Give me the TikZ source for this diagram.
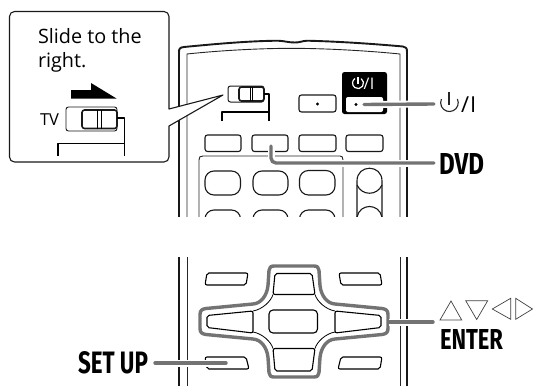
\documentclass[tikz,border=0pt]{standalone}
\usepackage{fontspec}
\setmainfont{Open Sans}
\newfontfamily\heavy{Fira Sans}
\tikzset{
 x=1pt,y=-1pt,
 thinl/.style={line width=0.9pt,black!85},
 body/.style={line width=1.9pt,black!90},
 btn/.style={line width=1.1pt,draw=black!90,fill=white,rounded corners=2.5pt},
 rnd/.style={line width=1.1pt,draw=black!90,fill=white,rounded corners=9pt},
 padbtn/.style={line width=1.1pt,draw=black,fill=white,rounded corners=2pt},
 lead/.style={line width=3.4pt,draw=black!55,line cap=round},
 halo/.style={line width=7pt,draw=white},
 ring/.style={line width=3.4pt,draw=black!55,fill=white,line join=round},
 tri/.style={line width=0.7pt,draw=black!75,line join=miter},
 txt/.style={inner sep=0pt,outer sep=0pt,anchor=base west},
 lbl/.style={inner sep=0pt,outer sep=0pt,anchor=south west},
}
\newcommand{\hv}[3]{\resizebox{#1pt}{#2pt}{\heavy\bfseries #3}}
\begin{document}
\begin{tikzpicture}
\useasboundingbox (0,0) rectangle (533,386);
% upper remote
\begin{scope}
\clip (170,30) rectangle (420,216);
\draw[body,line join=round] (179,220) -- (179,52) .. controls (179,48.5) and (180,47.5) .. (184,47) .. controls (220,43.5) and (250,41) .. (278,40.7) .. controls (285,41) and (288,42.5) .. (295,42.5) .. controls (300,42.5) and (302,41) .. (307,40.7) .. controls (340,41.5) and (375,44) .. (403,46.5) .. controls (406,47) and (407,48) .. (407,52) -- (407,220);
\draw[thinl] (187,220) -- (187,54) .. controls (220,50.5) and (260,48.3) .. (293,48.3) .. controls (330,48.5) and (370,51) .. (400,54) -- (400,220);
\draw[thinl] (199,220) -- (199,160) .. controls (199,157) and (200,156) .. (203,156) -- (340,156) .. controls (342,156) and (343,157) .. (343,160) -- (343,220);
\draw[rnd] (205,171) rectangle (240.5,195);
\draw[rnd] (253,171) rectangle (288,195);
\draw[rnd] (299.5,170.5) rectangle (335,195);
\draw[rnd] (205,210) rectangle (240.5,240);
\draw[rnd] (253,210) rectangle (288,240);
\draw[rnd] (299.5,210) rectangle (335,240);
\draw[line width=1.1pt,black!90] (357,220) -- (357,181) .. controls (357,164) and (382,164) .. (382,181) -- (382,220);
\draw[line width=1.1pt,black!90] (357,185) .. controls (362,196) and (377,196) .. (382,185);
\draw[line width=1.1pt,black!90] (357,217) .. controls (360,203) and (379,203) .. (382,217);
\end{scope}
% slider on the remote
\draw[btn,line width=1pt] (228,86) rectangle (264,102);
\draw[btn,line width=1.6pt] (239,87) rectangle (264,101);
\draw[line width=.8pt,black] (250,87) -- (250,101) (252.5,87) -- (252.5,101);
\draw[line width=1.3pt,black,line join=round] (264,94) -- (269,94) -- (269,121);
\draw[line width=1.3pt,black,line join=round] (222,121) -- (222,112) -- (269,112);
% buttons
\foreach \a/\b in {205/241,252/288,299/336,346/383}{\draw[btn] (\a,135) rectangle (\b,151.5);}
\draw[btn] (299,95) rectangle (336,112);
\fill (317.5,104) circle[radius=1.6];
\node[fill=black,inner sep=0pt,rounded corners=2.5pt,minimum width=45pt,minimum height=42pt] (power) at (364.5,93) {};
\node[fill=white,inner sep=0pt,rounded corners=2pt,minimum width=37pt,minimum height=15pt] (powerkey) at (364.5,104.5) {};
\coordinate (powerdot) at (356,104.5);
\fill (powerdot) circle[radius=1.6];
\draw[white,line width=1.2pt] (361.2,78.6) arc[start angle=305,end angle=595,radius=5.5];
\draw[white,line width=1.2pt] (358,77) -- (358,84);
\node[txt,white,font=\fontsize{16}{16}\selectfont] (powertxt) at (363.5,89) {/\kern.5pt I};
% callout
\draw[line width=1.1pt,black!90,fill=white,line join=round] (169,126) [rounded corners=5pt] -- (169,162) -- (9.5,162) -- (9.5,11.5) -- (169,11.5) [sharp corners] -- (169,109) -- (223,95) -- cycle;
\node[txt,font=\fontsize{19.8}{19.8}\selectfont] (slide1) at (38,43) {Slide to the};
\node[txt,font=\fontsize{19.8}{19.8}\selectfont] (slide2) at (38,67) {right.};
\fill (71,90) -- (91,90) -- (91,83) -- (116.5,98.5) -- (71,98.5) -- cycle;
\node[txt,font=\fontsize{16.5}{16.5}\selectfont] (tv) at (40,125) {TV};
\draw[btn,line width=.9pt] (66,107) rectangle (117,131);
\draw[btn,line width=1.6pt] (82,110) rectangle (117,128.5);
\draw[line width=.9pt,black] (97.5,110) -- (97.5,128.5) (101,110) -- (101,128.5);
\draw[line width=1.4pt,black,line join=round] (117,118) -- (124.5,118) -- (124.5,156);
\draw[line width=1.4pt,black,line join=round] (58,156) -- (58,143.5) -- (124.5,143.5);
% lower remote
\draw[body] (179,257) -- (179,386) (407,257) -- (407,386);
\draw[thinl] (187,257) -- (187,386) (400,257) -- (400,386);
\draw[padbtn] (207,273) -- (248,273) -- (246,285) -- (205,285) -- cycle;
\draw[padbtn] (380,273) -- (339,273) -- (341,285) -- (382,285) -- cycle;
\draw[padbtn] (205,357) -- (246,357) -- (249,369) -- (207,369) -- cycle;
\draw[padbtn] (382,357) -- (341,357) -- (338,369) -- (380,369) -- cycle;
% direction pad
\begin{scope}[shift={(294,321.5)}]
\draw[ring] (-20,-55.5) -- (20,-55.5) .. controls (23.5,-55.5) and (24.5,-54) .. (25,-51)
 -- (26,-36) .. controls (27,-26) and (33,-18) .. (41,-17.5)
 -- (88,-13) .. controls (92,-12.5) and (94,-11) .. (94,-7) -- (94,7) .. controls (94,11) and (92,12.5) .. (88,13)
 -- (41,17.5) .. controls (33,18) and (27,26) .. (26,36)
 -- (25,51) .. controls (24.5,54) and (23.5,55.5) .. (20,55.5) -- (-20,55.5) .. controls (-23.5,55.5) and (-24.5,54) .. (-25,51)
 -- (-26,36) .. controls (-27,26) and (-33,18) .. (-41,17.5)
 -- (-88,13) .. controls (-92,12.5) and (-94,11) .. (-94,7) -- (-94,-7) .. controls (-94,-11) and (-92,-12.5) .. (-88,-13)
 -- (-41,-17.5) .. controls (-33,-18) and (-27,-26) .. (-26,-36)
 -- (-25,-51) .. controls (-24.5,-54) and (-23.5,-55.5) .. (-20,-55.5) -- cycle;
\draw[line width=.8pt,black] (-21,-27) .. controls (-23,-20) and (-32,-12) .. (-41,-10.5);
\draw[line width=.8pt,black] (21,-27) .. controls (23,-20) and (32,-12) .. (41,-10.5);
\draw[line width=.8pt,black] (-21,27) .. controls (-23,20) and (-32,12) .. (-41,10.5);
\draw[line width=.8pt,black] (21,27) .. controls (23,20) and (32,12) .. (41,10.5);
\draw[padbtn] (-19,-48) -- (18,-48) -- (21,-27) -- (-21,-27) -- cycle;
\draw[padbtn] (-21,27) -- (21,27) -- (18,49.5) -- (-19,49.5) -- cycle;
\draw[padbtn] (-41,-10.5) -- (-41,11.5) -- (-87,6) -- (-87,-6) -- cycle;
\draw[padbtn] (41,-10.5) -- (41,11.5) -- (87,6) -- (87,-6) -- cycle;
\draw[line width=1.1pt,black,rounded corners=4pt] (-25,-11.5) rectangle (23.5,11.5);
\end{scope}
% labels
\node[lbl] (dvd) at (439,174) {\hv{45}{21}{DVD}};
\node[lbl] (enter) at (440,349) {\hv{63}{20}{ENTER}};
\node[lbl] (setup) at (78,374) {\hv{70}{22}{SET UP}};
\node[txt,font=\fontsize{22}{22}\selectfont] (powerlbl) at (461,112) {/\kern1pt I};
\draw[black!85,line width=1.1pt] (457.4,99) arc[start angle=-25,end angle=205,radius=8.8] coordinate (arcend);
\draw[black!85,line width=1.1pt] (449,92) -- (449,105);
\coordinate (powerend) at (434,104);
\coordinate (dvdkey) at (271,146);
\coordinate (dvdend) at (434,163);
\coordinate (padend) at (389,322);
\coordinate (enterend) at (433,322);
\coordinate (setupend) at (155,363);
\coordinate (setupkey) at (226,363);
\coordinate (powerstart) at (364,104.5);
% triangles
\draw[tri] (440,320) -- (461.7,320) -- (451,301) -- cycle;
\draw[tri] (465.7,300.7) -- (487.7,300.7) -- (476.7,319.5) -- cycle;
\draw[tri] (510.7,298.3) -- (510.7,319.3) -- (492.3,309) -- cycle;
\draw[tri] (515.7,298.3) -- (515.7,319.3) -- (532.5,309) -- cycle;
% leaders
\draw[halo] (powerstart) -- (powerend);
\draw[halo] (dvdkey) -- (271,163) -- (dvdend);
\draw[halo] (padend) -- (enterend);
\draw[halo] (setupend) -- (setupkey);
\draw[btn,draw=none,fill=white] (346,98) rectangle (383,111);
\fill (powerdot) circle[radius=1.6];
\draw[lead] (powerstart) -- (powerend);
\draw[lead,rounded corners=5pt] (dvdkey) -- (271,163) -- (dvdend);
\draw[lead] (padend) -- (enterend);
\draw[lead] (setupend) -- (setupkey);
\end{tikzpicture}
\end{document}
